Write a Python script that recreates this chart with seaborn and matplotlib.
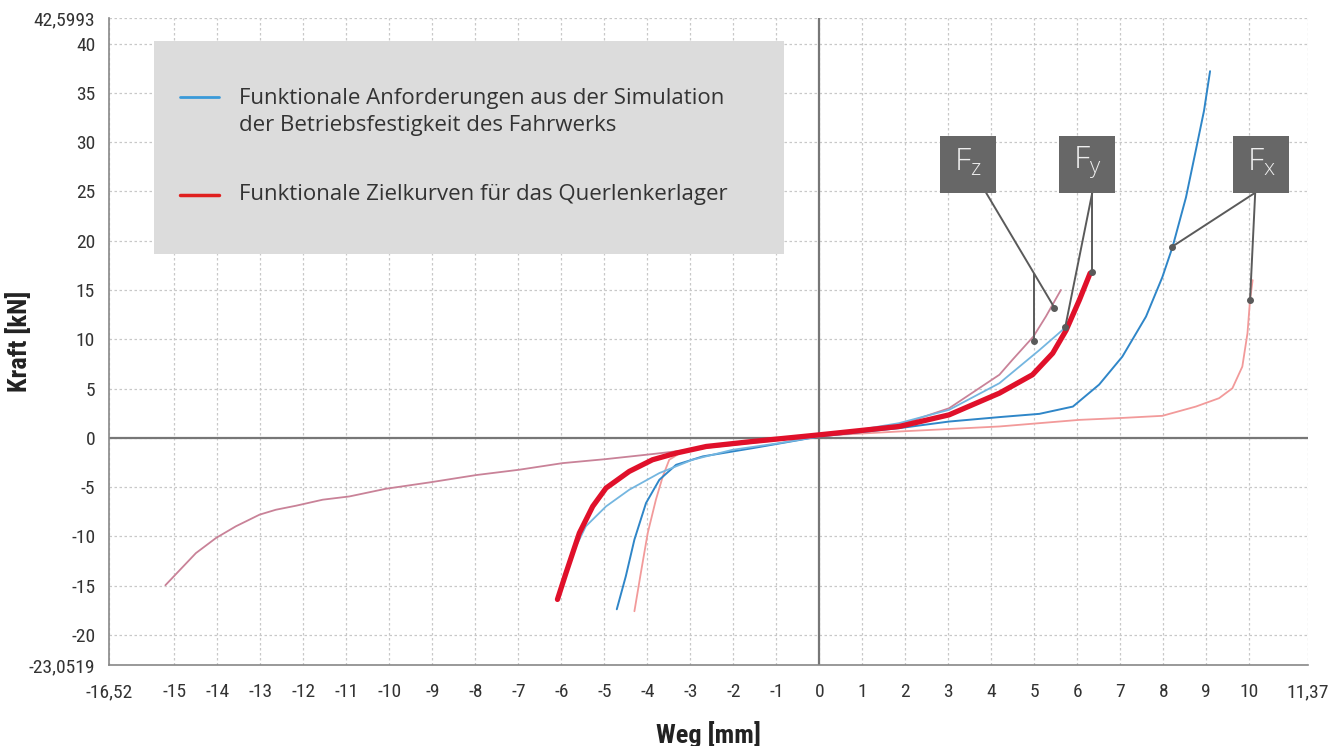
import matplotlib
matplotlib.use("Agg")
import matplotlib.pyplot as plt
import seaborn as sns
import pandas as pd
from matplotlib.patches import Rectangle
from matplotlib.lines import Line2D
from matplotlib.ticker import FixedLocator, FixedFormatter, MultipleLocator

# Fx: Anforderung (blau) und Zielkurve (hellrot)
fx_req_x = [-4.71, -4.50, -4.30, -4.03, -3.72, -3.33, -2.71, -1.55, 0.0, 1.86, 3.02,
            4.19, 5.12, 5.90, 6.51, 7.05, 7.60, 7.98, 8.22, 8.53, 8.76, 8.95, 9.09]
fx_req_y = [-17.4, -14.05, -10.33, -6.62, -4.26, -2.74, -1.89, -1.05, 0.13, 0.98, 1.65,
            2.10, 2.43, 3.17, 5.40, 8.24, 12.3, 16.3, 19.4, 24.4, 29.2, 33.2, 37.2]

fx_target_x = [-4.30, -4.15, -3.99, -3.80, -3.64, -3.49, -3.18, -2.50, -1.50, 0.0, 1.86,
               4.19, 6.05, 6.98, 7.98, 8.76, 9.30, 9.61, 9.84, 9.96, 10.02, 10.08]
fx_target_y = [-17.6, -13.7, -9.66, -6.28, -3.92, -2.23, -1.39, -0.85, -0.40, 0.20, 0.64,
               1.15, 1.82, 2.00, 2.23, 3.17, 4.02, 5.03, 7.22, 10.6, 13.98, 16.0]

# Fy: Anforderung (hellblau) und Zielkurve (rot, dick)
fy_req_x = [-6.09, -5.81, -5.43, -4.96, -4.42, -3.72, -2.95, -2.02, -0.93, 0.0, 1.86,
            3.02, 4.19, 5.12, 5.70, 5.85]
fy_req_y = [-16.1, -12.4, -8.98, -6.96, -5.27, -3.58, -2.23, -1.22, -0.54, 0.13, 1.49,
            2.84, 5.54, 8.90, 11.1, 12.0]

fy_target_x = [-6.09, -5.89, -5.58, -5.27, -4.96, -4.42, -3.88, -3.33, -2.63, -1.55, 0.0,
               1.86, 3.02, 4.19, 4.96, 5.43, 5.74, 6.05, 6.30]
fy_target_y = [-16.4, -13.7, -9.66, -6.96, -5.10, -3.41, -2.23, -1.55, -0.88, -0.37, 0.30,
               1.15, 2.33, 4.53, 6.40, 8.58, 10.9, 13.98, 16.7]

# Fz (mauve)
fz_x = [-15.21, -14.5, -14.03, -13.57, -13.02, -12.64, -12.17, -11.55, -10.93, -10.08,
        -9.07, -7.98, -6.98, -5.97, -4.96, -3.88, -2.50, -1.20, 0.0, 0.90, 1.86, 3.02,
        4.19, 4.49, 4.98, 5.27, 5.62]
fz_y = [-14.96, -11.7, -10.16, -8.98, -7.80, -7.30, -6.89, -6.28, -5.95, -5.17,
        -4.53, -3.78, -3.24, -2.57, -2.16, -1.65, -0.95, -0.35, 0.30, 0.75, 1.30, 3.00,
        6.40, 7.90, 10.27, 12.3, 15.0]

# Beschriftungen F_z, F_y, F_x: Kasten-Mitte und Zeigerlinien
tag_labels = [r"F$_{\mathregular{z}}$", r"F$_{\mathregular{y}}$", r"F$_{\mathregular{x}}$"]
tag_x = [3.455, 6.23, 10.28]
tag_y = [27.77, 27.77, 27.77]
lead_start_x = [3.88, 5.00, 6.35, 6.35, 10.14, 10.14]
lead_start_y = [24.87, 16.65, 24.87, 24.87, 24.87, 24.87]
lead_end_x = [5.47, 5.00, 5.72, 6.35, 8.21, 10.02]
lead_end_y = [13.2, 9.85, 11.2, 16.85, 19.4, 14.0]

x_ticks = [-16.52, -15, -14, -13, -12, -11, -10, -9, -8, -7, -6, -5, -4, -3, -2, -1,
           0, 1, 2, 3, 4, 5, 6, 7, 8, 9, 10, 11.37]
y_ticks = [-23.0519, -20, -15, -10, -5, 0, 5, 10, 15, 20, 25, 30, 35, 40, 42.5993]

legend_labels = ["Funktionale Anforderungen aus der Simulation\nder Betriebsfestigkeit des Fahrwerks",
                 "Funktionale Zielkurven für das Querlenkerlager"]

sns.set_style("white")
plt.rcParams["font.family"] = ["Roboto Condensed", "Liberation Sans Narrow", "DejaVu Sans"]
plt.rcParams["font.stretch"] = "condensed"

fig = plt.figure(figsize=(13.43, 7.46), dpi=100)
ax = fig.add_axes([0.0812, 0.1086, 0.8928, 0.8673])

curves = [
    (fz_x, fz_y, "#c98298", 1.3),
    (fx_target_x, fx_target_y, "#f29a9a", 1.3),
    (fx_req_x, fx_req_y, "#2f86c8", 1.4),
    (fy_req_x, fy_req_y, "#74b6e0", 1.3),
    (fy_target_x, fy_target_y, "#e0102a", 3.8),
]
for cx, cy, col, lw in curves:
    d = pd.DataFrame({"Weg": cx, "Kraft": cy})
    sns.lineplot(data=d, x="Weg", y="Kraft", sort=False, estimator=None,
                 color=col, linewidth=lw, ax=ax, zorder=3)

ax.axhline(0, color="#777777", lw=1.6, zorder=2)
ax.axvline(0, color="#777777", lw=1.6, zorder=2)

ax.set_xlim(-16.52, 11.37)
ax.set_ylim(-23.0519, 42.5993)

ax.xaxis.set_major_locator(FixedLocator(x_ticks))
ax.xaxis.set_major_formatter(FixedFormatter([f"{t:g}".replace(".", ",") for t in x_ticks]))
ax.yaxis.set_major_locator(FixedLocator(y_ticks))
ax.yaxis.set_major_formatter(FixedFormatter([f"{t:g}".replace(".", ",") for t in y_ticks]))
ax.xaxis.set_minor_locator(MultipleLocator(0.2))
ax.yaxis.set_minor_locator(MultipleLocator(1))

ax.grid(True, which="major", color="#c8c8c8", linestyle=(0, (2, 2)), linewidth=0.9)
ax.tick_params(which="major", direction="out", length=6, width=1, color="#777777",
               labelsize=14, labelcolor="#333333")
ax.tick_params(which="minor", direction="out", length=3, width=0.8, color="#888888")
ax.tick_params(axis="x", which="major", pad=7)
ax.tick_params(axis="y", which="major", pad=4)

for s in ["top", "right"]:
    ax.spines[s].set_visible(False)
for s in ["left", "bottom"]:
    ax.spines[s].set_color("#888888")
    ax.spines[s].set_linewidth(1.2)

ax.set_xlabel("Weg [mm]", fontsize=19, fontweight="bold", color="#222222")
ax.set_ylabel("Kraft [kN]", fontsize=19, fontweight="bold", color="#222222")
ax.xaxis.set_label_coords(0.5, -0.086)
ax.yaxis.set_label_coords(-0.064, 0.5)

# Legendenkasten
ax.add_patch(Rectangle((0.0375, 0.6352), 0.5254, 0.3293, transform=ax.transAxes,
                       facecolor="#dcdcdc", edgecolor="none", zorder=4))
ax.add_line(Line2D([0.0592, 0.0917], [0.8779, 0.8779], transform=ax.transAxes,
                   color="#3a9ad9", lw=2, zorder=5))
ax.add_line(Line2D([0.0592, 0.0917], [0.7264, 0.7264], transform=ax.transAxes,
                   color="#e0201f", lw=2.5, zorder=5))
ax.text(0.1084, 0.8547, legend_labels[0], transform=ax.transAxes, fontsize=16,
        family="Open Sans", stretch="normal", color="#333333", va="center", ha="left",
        linespacing=1.4, zorder=5)
ax.text(0.1084, 0.7264, legend_labels[1], transform=ax.transAxes, fontsize=16,
        family="Open Sans", stretch="normal", color="#333333", va="center", ha="left",
        zorder=5)

# Kennzeichnungen
for sx, sy, ex, ey in zip(lead_start_x, lead_start_y, lead_end_x, lead_end_y):
    ax.plot([sx, ex], [sy, ey], color="#5a5a5a", lw=1.4, zorder=6)
    ax.plot([ex], [ey], marker="o", markersize=4, color="#5a5a5a", zorder=6)
for lab, tx, ty in zip(tag_labels, tag_x, tag_y):
    ax.add_patch(Rectangle((tx - 0.655, ty - 2.9), 1.31, 5.8, facecolor="#676767",
                           edgecolor="none", zorder=7))
    ax.text(tx, ty + 0.2, lab, ha="center", va="center", fontsize=23, color="#eeeeee",
            family="Open Sans", stretch="normal", weight="light", zorder=8)

fig.savefig("out.png", dpi=100)
